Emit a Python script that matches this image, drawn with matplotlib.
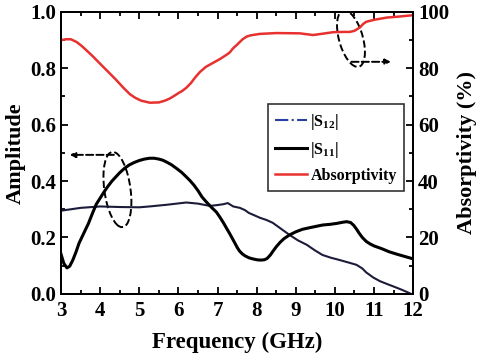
import matplotlib
matplotlib.use("Agg")
import matplotlib.pyplot as plt
from matplotlib.patches import Ellipse
from matplotlib.lines import Line2D
from matplotlib.ticker import MultipleLocator

plt.rcParams['font.family'] = 'Liberation Serif'
plt.rcParams['font.weight'] = 'bold'
plt.rcParams['mathtext.fontset'] = 'custom'
plt.rcParams['mathtext.rm'] = 'Liberation Serif:bold'
plt.rcParams['mathtext.bf'] = 'Liberation Serif:bold'
plt.rcParams['mathtext.it'] = 'Liberation Serif:bold'

# |S11| readings
f_s11 = [3.0, 3.07, 3.15, 3.22, 3.3, 3.38, 3.46, 3.58, 3.7, 3.8, 3.9, 4.0, 4.1, 4.2,
         4.3, 4.4, 4.5, 4.62, 4.74, 4.87, 5.0, 5.13, 5.26, 5.38, 5.5, 5.6, 5.69, 5.82,
         5.95, 6.08, 6.2, 6.3, 6.4, 6.5, 6.6, 6.7, 6.8, 6.88, 6.97, 7.06, 7.15, 7.22,
         7.3, 7.38, 7.45, 7.5, 7.56, 7.63, 7.7, 7.8, 7.9, 8.0, 8.06, 8.13, 8.2, 8.27,
         8.35, 8.42, 8.5, 8.6, 8.7, 8.84, 9.0, 9.17, 9.4, 9.68, 9.9, 10.05, 10.2, 10.3,
         10.4, 10.48, 10.55, 10.62, 10.7, 10.8, 10.9, 11.0, 11.2, 11.39, 11.6, 11.8,
         11.9, 12.0]
s11 = [0.14, 0.108, 0.092, 0.098, 0.12, 0.148, 0.18, 0.215, 0.25, 0.285, 0.318,
       0.34, 0.362, 0.382, 0.40, 0.415, 0.43, 0.445, 0.457, 0.466, 0.473, 0.478,
       0.481, 0.481, 0.478, 0.474, 0.468, 0.458, 0.445, 0.431, 0.415, 0.401, 0.385,
       0.366, 0.344, 0.328, 0.313, 0.302, 0.29, 0.272, 0.252, 0.235, 0.216, 0.196,
       0.178, 0.165, 0.152, 0.142, 0.135, 0.128, 0.124, 0.121, 0.12, 0.12, 0.121,
       0.126, 0.138, 0.152, 0.167, 0.183, 0.196, 0.209, 0.22, 0.229, 0.236, 0.244,
       0.247, 0.25, 0.254, 0.256, 0.253, 0.243, 0.23, 0.215, 0.2, 0.186, 0.177,
       0.17, 0.16, 0.149, 0.14, 0.132, 0.128, 0.124]

# |S12| readings
f_s12 = [3.0, 3.5, 4.0, 4.5, 5.0, 5.26, 5.7, 6.2, 6.5, 6.8, 7.0, 7.15, 7.26, 7.4,
         7.57, 7.7, 7.8, 7.95, 8.08, 8.25, 8.41, 8.6, 8.84, 9.05, 9.28, 9.48, 9.68,
         9.9, 10.12, 10.35, 10.55, 10.7, 10.8, 10.98, 11.15, 11.35, 11.5, 11.7,
         11.85, 12.0]
s12 = [0.295, 0.305, 0.31, 0.308, 0.307, 0.31, 0.316, 0.324, 0.32, 0.312, 0.315,
       0.318, 0.322, 0.31, 0.305, 0.297, 0.287, 0.278, 0.27, 0.262, 0.252, 0.233,
       0.209, 0.19, 0.174, 0.155, 0.138, 0.128, 0.12, 0.111, 0.103, 0.09, 0.076,
       0.058, 0.045, 0.034, 0.026, 0.015, 0.006, -0.004]

# Absorptivity readings (%)
f_abs = [3.0, 3.12, 3.25, 3.4, 3.52, 3.64, 3.8, 3.97, 4.2, 4.4, 4.6, 4.76, 4.9,
         5.05, 5.27, 5.5, 5.65, 5.78, 5.9, 6.0, 6.1, 6.21, 6.32, 6.43, 6.55, 6.7,
         6.88, 7.05, 7.23, 7.31, 7.39, 7.5, 7.64, 7.75, 7.85, 8.08, 8.51, 9.1,
         9.44, 9.7, 9.95, 10.2, 10.38, 10.5, 10.64, 10.72, 10.8, 11.0, 11.33, 11.6,
         11.97, 12.0]
absorp = [90.0, 90.3, 90.3, 89.3, 88.0, 86.5, 84.4, 82.0, 78.8, 76.0, 73.0, 70.8,
          69.5, 68.5, 67.8, 67.9, 68.5, 69.3, 70.3, 71.2, 72.0, 73.2, 74.8, 76.8,
          78.7, 80.5, 81.9, 83.2, 84.8, 85.6, 87.0, 88.4, 90.3, 91.3, 91.7, 92.2,
          92.5, 92.4, 91.8, 92.3, 92.8, 92.9, 92.9, 93.3, 94.5, 95.7, 96.5, 97.2,
          98.0, 98.3, 98.8, 98.9]

fig = plt.figure(figsize=(4.81, 3.61), dpi=100)
ax = fig.add_axes([0.127, 0.186, 0.732, 0.781])
ax2 = ax.twinx()

l12, = ax.plot(f_s12, s12, color='#1c1c3a', lw=1.5, label=r'|S$_{\mathbf{12}}$|')
l11, = ax.plot(f_s11, s11, color='black', lw=2.2, label=r'|S$_{\mathbf{11}}$|')
la, = ax2.plot(f_abs, absorp, color='#e8312f', lw=1.8, label='Absorptivity')

# legend proxy for S12 style
h12 = Line2D([], [], color='#2b3f9e', lw=1.5, ls='-.')
leg = ax.legend([h12, l11, la], [l12.get_label(), l11.get_label(), 'Absorptivity'],
                loc='upper left', bbox_to_anchor=(0.588, 0.672), fontsize=11.5,
                frameon=True, fancybox=False, edgecolor='black', handlelength=2.0,
                borderpad=0.45, labelspacing=0.5, handletextpad=0.2,
                borderaxespad=0.0)
leg.get_frame().set_linewidth(1.2)

ax.set_xlim(3, 12)
ax.set_ylim(0, 1.0)
ax2.set_ylim(0, 100)

ax.xaxis.set_major_locator(MultipleLocator(1))
ax.xaxis.set_minor_locator(MultipleLocator(0.5))
ax.yaxis.set_major_locator(MultipleLocator(0.2))
ax.yaxis.set_minor_locator(MultipleLocator(0.1))
ax2.yaxis.set_major_locator(MultipleLocator(20))
ax2.yaxis.set_minor_locator(MultipleLocator(10))
ax.yaxis.set_major_formatter(plt.FormatStrFormatter('%.1f'))

ax.tick_params(which='both', direction='in', top=True, labelsize=15, width=1.3)
ax.tick_params(which='major', length=5)
ax.tick_params(which='minor', length=3)
ax.tick_params(axis='x', pad=5)
ax2.tick_params(which='both', direction='in', labelsize=15, width=1.3)
ax2.tick_params(which='major', length=5)
ax2.tick_params(which='minor', length=3)
for a in (ax, ax2):
    for s in a.spines.values():
        s.set_linewidth(1.4)

ax.set_xlabel('Frequency (GHz)', fontsize=16.5, fontweight='bold', labelpad=8)
ax.set_ylabel('Amplitude', fontsize=16, fontweight='bold', labelpad=3)
ax2.set_ylabel('Absorptivity (%)', fontsize=16, fontweight='bold', labelpad=6)

# dashed ellipses and arrows
ax.add_patch(Ellipse((4.44, 0.37), 0.72, 0.25, angle=-8, fill=False, ls='--', lw=1.4,
                     color='black'))
ax.annotate('', xy=(3.15, 0.493), xytext=(4.42, 0.493),
            arrowprops=dict(arrowstyle='-|>', ls='--', lw=1.4, color='black',
                            mutation_scale=8))
ax.add_patch(Ellipse((10.41, 0.905), 0.72, 0.175, angle=-8, fill=False, ls='--', lw=1.4,
                     color='black'))
ax.annotate('', xy=(11.5, 0.823), xytext=(10.35, 0.823),
            arrowprops=dict(arrowstyle='-|>', ls='--', lw=1.4, color='black',
                            mutation_scale=8))

fig.savefig('out.png', dpi=100)
